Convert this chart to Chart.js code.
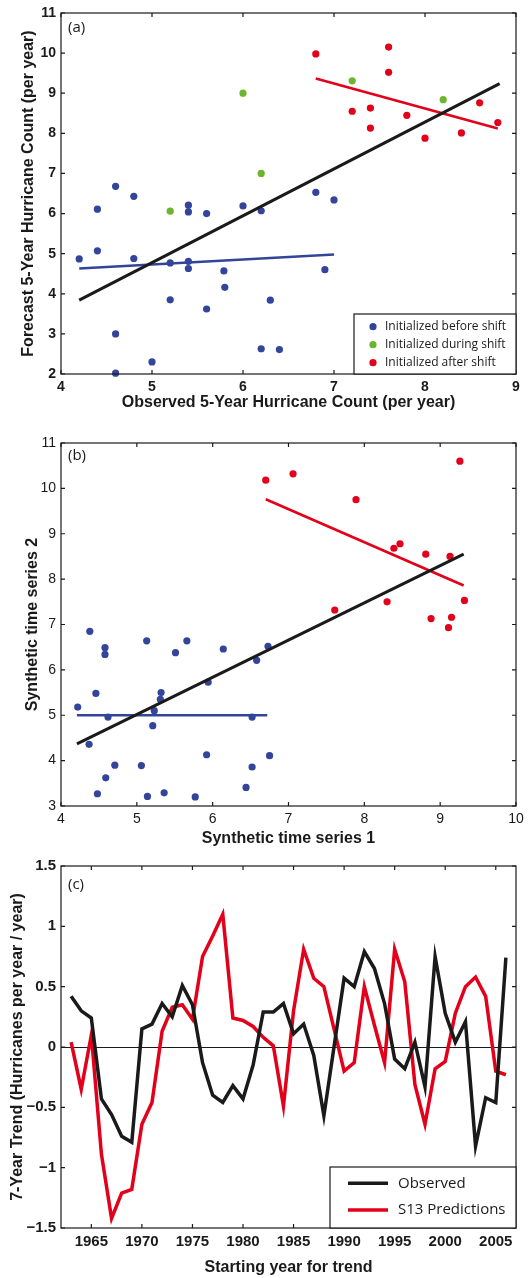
<!DOCTYPE html>
<html>
<head>
<meta charset="utf-8">
<script src="https://cdn.jsdelivr.net/npm/chart.js@4.4.1/dist/chart.umd.min.js"></script>
<style>
  body { margin: 0; background: #fff; width: 528px; height: 1278px; position: relative; overflow: hidden; }
  .panel { position: absolute; left: 0; width: 528px; }
</style>
</head>
<body>
<div class="panel" style="top:0;height:420px"><canvas id="chartA"></canvas></div>
<div class="panel" style="top:420px;height:430px"><canvas id="chartB"></canvas></div>
<div class="panel" style="top:850px;height:428px"><canvas id="chartC"></canvas></div>
<script>
// ---- panel (a): observed vs forecast 5-year hurricane counts ----
const aBefore = [[4.2,4.87],[4.4,6.11],[4.4,5.07],[4.6,6.68],[4.6,3.0],[4.6,2.02],[4.8,6.43],[4.8,4.88],
  [5.0,2.3],[5.2,4.77],[5.2,3.85],[5.4,6.21],[5.4,6.04],[5.4,4.81],[5.4,4.63],[5.6,6.0],[5.6,3.62],
  [5.79,4.57],[5.8,4.16],[6.0,6.19],[6.2,6.07],[6.2,2.63],[6.3,3.84],[6.4,2.61],[6.8,6.53],[7.0,6.34],[6.9,4.6]];
const aDuring = [[5.2,6.06],[6.0,9.0],[6.2,7.0],[7.2,9.31],[8.2,8.84]];
const aAfter = [[6.8,9.98],[7.6,10.15],[7.6,9.52],[7.2,8.55],[7.4,8.63],[7.4,8.13],[7.8,8.45],[8.0,7.88],
  [8.4,8.01],[8.6,8.76],[8.8,8.27]];
const aFitAll = [[4.2,3.84],[8.82,9.24]];
const aFitBefore = [[4.2,4.63],[7.0,4.98]];
const aFitAfter = [[6.8,9.37],[8.8,8.12]];

// ---- panel (b): synthetic series ----
const bBefore = [[4.22,5.18],[4.38,6.85],[4.37,4.36],[4.46,5.48],[4.48,3.27],[4.58,6.49],[4.58,6.34],
  [4.62,4.96],[4.59,3.62],[4.71,3.9],[5.06,3.89],[5.13,6.64],[5.14,3.21],[5.21,4.77],[5.23,5.1],
  [5.31,5.35],[5.32,5.5],[5.36,3.29],[5.51,6.38],[5.66,6.64],[5.77,3.2],[5.92,4.13],[5.94,5.73],
  [6.14,6.46],[6.44,3.41],[6.52,4.96],[6.52,3.86],[6.58,6.21],[6.73,6.52],[6.75,4.11]];
const bAfter = [[6.7,10.18],[7.06,10.32],[7.89,9.75],[8.39,8.68],[8.47,8.78],[8.81,8.55],[9.13,8.5],
  [9.26,10.6],[9.32,7.53],[8.3,7.5],[7.61,7.32],[8.88,7.13],[9.15,7.16],[9.11,6.93]];
const bFitAll = [[4.21,4.37],[9.31,8.55]];
const bFitBefore = [[4.21,5.0],[6.72,5.0]];
const bFitAfter = [[6.7,9.76],[9.31,7.86]];

// ---- panel (c): 7-year trends ----
const years = [1963,1964,1965,1966,1967,1968,1969,1970,1971,1972,1973,1974,1975,1976,1977,1978,1979,1980,
  1981,1982,1983,1984,1985,1986,1987,1988,1989,1990,1991,1992,1993,1994,1995,1996,1997,1998,1999,2000,
  2001,2002,2003,2004,2005,2006];
const observed = [0.42,0.30,0.24,-0.43,-0.56,-0.74,-0.79,0.15,0.19,0.36,0.25,0.51,0.35,-0.13,-0.40,-0.46,
  -0.32,-0.43,-0.15,0.29,0.29,0.36,0.11,0.19,-0.07,-0.57,0.0,0.57,0.50,0.79,0.65,0.36,-0.10,-0.18,0.04,
  -0.33,0.75,0.28,0.04,0.21,-0.82,-0.42,-0.46,0.74];
const s13 = [0.04,-0.35,0.10,-0.89,-1.42,-1.21,-1.18,-0.64,-0.46,0.13,0.33,0.35,0.23,0.75,0.92,1.10,
  0.24,0.22,0.17,0.08,0.01,-0.49,0.30,0.81,0.57,0.50,0.15,-0.20,-0.13,0.50,0.18,-0.13,0.81,0.54,-0.31,
  -0.64,-0.18,-0.12,0.28,0.50,0.58,0.42,-0.20,-0.23];
const yearTicks = [1965,1970,1975,1980,1985,1990,1995,2000,2005];

const BLUE = '#33459a', GREEN = '#6cb52e', RED = '#e2001a', INK = '#1a1a1a';
const SANS = '"Liberation Sans", Arial, sans-serif';
const SOFT = '"Open Sans", "Noto Sans", sans-serif';

const pts = list => list.map(p => ({ x: p[0], y: p[1] }));

function dots(label, list, color) {
  return { label, data: pts(list), backgroundColor: color, borderWidth: 0,
    pointRadius: 3.6, pointHoverRadius: 3.6, clip: false, order: 2 };
}
function fit(list, color, width) {
  return { data: pts(list), showLine: true, borderColor: color, borderWidth: width,
    pointRadius: 0, clip: false, order: 1 };
}

// box with inward ticks on all four sides, optional zero line
const frame = {
  id: 'frame',
  beforeDatasetsDraw(chart, args, o) {
    if (!o.zeroLine) return;
    const { ctx, chartArea: a } = chart;
    const y0 = Math.round(chart.scales.y.getPixelForValue(0)) + 0.5;
    ctx.save();
    ctx.strokeStyle = INK; ctx.lineWidth = 1;
    ctx.beginPath(); ctx.moveTo(a.left, y0); ctx.lineTo(a.right, y0); ctx.stroke();
    ctx.restore();
  },
  afterDatasetsDraw(chart) {
    const { ctx, chartArea: a, scales: { x, y } } = chart;
    const t = 4;
    ctx.save();
    ctx.strokeStyle = INK; ctx.lineWidth = 1.2;
    ctx.strokeRect(a.left, a.top, a.right - a.left, a.bottom - a.top);
    ctx.beginPath();
    x.ticks.forEach(tk => {
      const px = x.getPixelForValue(tk.value);
      ctx.moveTo(px, a.bottom); ctx.lineTo(px, a.bottom - t);
      ctx.moveTo(px, a.top); ctx.lineTo(px, a.top + t);
    });
    y.ticks.forEach(tk => {
      const py = y.getPixelForValue(tk.value);
      ctx.moveTo(a.left, py); ctx.lineTo(a.left + t, py);
      ctx.moveTo(a.right, py); ctx.lineTo(a.right - t, py);
    });
    ctx.stroke();
    ctx.restore();
  }
};

// legend box in the lower right corner of the plot
const boxLegend = {
  id: 'boxLegend',
  afterDraw(chart, args, o) {
    if (!o.items) return;
    const { ctx, chartArea: a } = chart;
    const x0 = a.right - o.width, y0 = a.bottom - o.height;
    ctx.save();
    ctx.fillStyle = '#fff';
    ctx.fillRect(x0, y0, o.width, o.height);
    ctx.strokeStyle = INK; ctx.lineWidth = 1.2;
    ctx.strokeRect(x0, y0, o.width, o.height);
    ctx.font = o.font; ctx.textBaseline = 'middle'; ctx.textAlign = 'left';
    o.items.forEach((it, i) => {
      const y = y0 + o.first + i * o.step;
      if (it.line) {
        ctx.strokeStyle = it.color; ctx.lineWidth = 3.5;
        ctx.beginPath(); ctx.moveTo(x0 + o.markX, y); ctx.lineTo(x0 + o.markX + o.lineLen, y); ctx.stroke();
      } else {
        ctx.fillStyle = it.color;
        ctx.beginPath(); ctx.arc(x0 + o.markX, y, 3.6, 0, Math.PI * 2); ctx.fill();
      }
      ctx.fillStyle = INK;
      ctx.fillText(it.text, x0 + o.textX, y);
    });
    ctx.restore();
  }
};

const panelLabel = {
  id: 'panelLabel',
  afterDraw(chart, args, o) {
    const { ctx, chartArea: a } = chart;
    ctx.save();
    ctx.font = '15px ' + SOFT; ctx.fillStyle = INK;
    ctx.textBaseline = 'middle'; ctx.textAlign = 'left';
    ctx.fillText(o.text, a.left + 7, a.top + o.dy);
    ctx.restore();
  }
};

function linAxis(min, max, step, tickFont, title, titlePad, fitFn) {
  return {
    type: 'linear', min, max,
    ticks: { stepSize: step, font: tickFont, color: INK, padding: 5, autoSkip: false, maxRotation: 0 },
    grid: { display: false, drawTicks: false },
    border: { display: false },
    title: { display: true, text: title, color: INK, font: { family: SANS, size: 16, weight: 'bold' }, padding: titlePad },
    afterFit: fitFn
  };
}
const xFit = h => s => { s.height = h; s.paddingLeft = 0; s.paddingRight = 0; };
const yFit = w => s => { s.width = w; s.paddingTop = 0; s.paddingBottom = 0; };

const boldTick = { family: SANS, size: 14, weight: 'bold' };
const plainTick = { family: SANS, size: 14 };

new Chart(document.getElementById('chartA'), {
  type: 'scatter',
  data: { datasets: [
    dots('Initialized before shift', aBefore, BLUE),
    dots('Initialized during shift', aDuring, GREEN),
    dots('Initialized after shift', aAfter, RED),
    fit(aFitAll, INK, 3), fit(aFitBefore, BLUE, 2.6), fit(aFitAfter, RED, 2.6)
  ] },
  options: {
    responsive: true, maintainAspectRatio: false, animation: false,
    layout: { padding: { left: 0, right: 12, top: 13, bottom: 0 } },
    plugins: {
      legend: { display: false }, tooltip: { enabled: false },
      panelLabel: { text: '(a)', dy: 15 },
      boxLegend: { width: 162, height: 60, first: 12.7, step: 18, markX: 19, textX: 31,
        font: '12px ' + SOFT,
        items: [
          { text: 'Initialized before shift', color: BLUE },
          { text: 'Initialized during shift', color: GREEN },
          { text: 'Initialized after shift', color: RED }
        ] }
    },
    scales: {
      x: linAxis(4, 9, 1, boldTick, 'Observed 5-Year Hurricane Count (per year)', { top: 0, bottom: 8 }, xFit(46)),
      y: linAxis(2, 11, 1, boldTick, 'Forecast 5-Year Hurricane Count (per year)', { top: 19, bottom: 0 }, yFit(61))
    }
  },
  plugins: [frame, boxLegend, panelLabel]
});

new Chart(document.getElementById('chartB'), {
  type: 'scatter',
  data: { datasets: [
    dots('before', bBefore, BLUE),
    dots('after', bAfter, RED),
    fit(bFitAll, INK, 3), fit(bFitBefore, BLUE, 2.6), fit(bFitAfter, RED, 2.6)
  ] },
  options: {
    responsive: true, maintainAspectRatio: false, animation: false,
    layout: { padding: { left: 0, right: 12, top: 23, bottom: 0 } },
    plugins: {
      legend: { display: false }, tooltip: { enabled: false },
      panelLabel: { text: '(b)', dy: 13 }
    },
    scales: {
      x: linAxis(4, 10, 1, plainTick, 'Synthetic time series 1', { top: 0, bottom: 2 }, xFit(44)),
      y: linAxis(3, 11, 1, plainTick, 'Synthetic time series 2', { top: 23, bottom: 0 }, yFit(61))
    }
  },
  plugins: [frame, panelLabel]
});

const xC = linAxis(1962, 2007, 5, { family: SANS, size: 15, weight: 'bold' }, 'Starting year for trend', { top: 0, bottom: 1 }, xFit(50));
xC.afterBuildTicks = s => { s.ticks = yearTicks.map(v => ({ value: v })); };
xC.ticks.callback = v => String(v);
const yC = linAxis(-1.5, 1.5, 0.5, { family: SANS, size: 15, weight: 'bold' }, '7-Year Trend (Hurricanes per year / year)', { top: 8, bottom: 0 }, yFit(61));
yC.ticks.callback = v => (v < 0 ? '\u2212' : '') + Math.abs(v);

new Chart(document.getElementById('chartC'), {
  type: 'line',
  data: { datasets: [
    { label: 'Observed', data: years.map((yr, i) => ({ x: yr, y: observed[i] })), borderColor: INK,
      borderWidth: 3.5, pointRadius: 0, tension: 0, order: 1 },
    { label: 'S13 Predictions', data: years.map((yr, i) => ({ x: yr, y: s13[i] })), borderColor: RED,
      borderWidth: 3.5, pointRadius: 0, tension: 0, order: 2 }
  ] },
  options: {
    responsive: true, maintainAspectRatio: false, animation: false,
    layout: { padding: { left: 0, right: 12, top: 16, bottom: 0 } },
    plugins: {
      legend: { display: false }, tooltip: { enabled: false },
      frame: { zeroLine: true },
      panelLabel: { text: '(c)', dy: 19 },
      boxLegend: { width: 186, height: 61, first: 16.3, step: 26.7, markX: 18, lineLen: 40, textX: 68,
        font: '15px ' + SOFT,
        items: [
          { text: 'Observed', color: INK, line: true },
          { text: 'S13 Predictions', color: RED, line: true }
        ] }
    },
    scales: { x: xC, y: yC }
  },
  plugins: [frame, boxLegend, panelLabel]
});
</script>
</body>
</html>
